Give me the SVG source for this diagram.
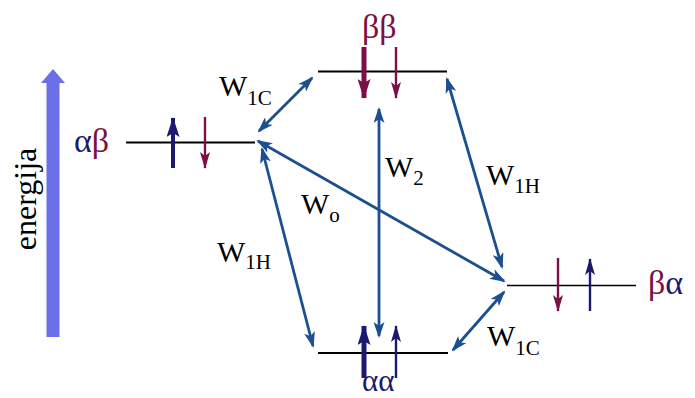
<svg xmlns="http://www.w3.org/2000/svg" width="695" height="398" viewBox="0 0 695 398">
<style>
.lvl{stroke:#000;fill:none}
.con{stroke:#1c4f8f;fill:none;stroke-width:2.8;marker-start:url(#ah);marker-end:url(#ah)}
.lab{font-family:"Liberation Serif","Times New Roman",serif;font-size:30px;fill:#000}
.sub{font-size:21px}
.gr{font-family:"Liberation Serif","Times New Roman",serif;font-size:34px}
.nv{fill:#1c1a6e}
.mr{fill:#7a1045}
.sn{stroke:#1c1a6e;fill:none}
.sm{stroke:#7a1045;fill:none}
</style>
<defs>
<marker id="ah" markerUnits="userSpaceOnUse" viewBox="0 0 16 11" markerWidth="16" markerHeight="11" refX="14" refY="5.5" orient="auto-start-reverse">
<path d="M0,0 L16,5.5 L0,11 L4,5.5 z" fill="#1c4f8f"/>
</marker>
<marker id="nvB" markerUnits="userSpaceOnUse" viewBox="0 0 20 13" markerWidth="20" markerHeight="13" refX="19" refY="6.5" orient="auto">
<path d="M0,0 L20,6.5 L0,13 L4,6.5 z" fill="#1c1a6e"/>
</marker>
<marker id="nvS" markerUnits="userSpaceOnUse" viewBox="0 0 17 10" markerWidth="17" markerHeight="10" refX="16" refY="5" orient="auto">
<path d="M0,0 L17,5 L0,10 L4,5 z" fill="#1c1a6e"/>
</marker>
<marker id="mrB" markerUnits="userSpaceOnUse" viewBox="0 0 20 13" markerWidth="20" markerHeight="13" refX="19" refY="6.5" orient="auto">
<path d="M0,0 L20,6.5 L0,13 L4,6.5 z" fill="#7a1045"/>
</marker>
<marker id="mrS" markerUnits="userSpaceOnUse" viewBox="0 0 17 10" markerWidth="17" markerHeight="10" refX="16" refY="5" orient="auto">
<path d="M0,0 L17,5 L0,10 L4,5 z" fill="#7a1045"/>
</marker>
</defs>
<rect width="695" height="398" fill="#fff"/>

<g id="energy-axis">
<polygon points="46.5,337 59.5,337 59.5,83 65,83 53,69 41,83 46.5,83" fill="#6b6fe9"/>
<text class="lab" text-anchor="middle" transform="translate(36,199) rotate(-90)" style="font-size:32px">energija</text>
</g>

<g id="level-ab">
<line class="lvl" x1="126" y1="142.5" x2="255" y2="142.5" stroke-width="2.2"/>
<line class="sn" x1="173" y1="168" x2="173" y2="118" stroke-width="4" marker-end="url(#nvB)"/>
<line class="sm" x1="205" y1="117" x2="205" y2="168" stroke-width="2.4" marker-end="url(#mrS)"/>
<text class="gr" x="74" y="152"><tspan class="nv">α</tspan><tspan class="mr">β</tspan></text>
</g>

<g id="level-bb">
<line class="lvl" x1="318" y1="71.5" x2="447" y2="71.5" stroke-width="2.2"/>
<line class="sm" x1="364" y1="47" x2="364" y2="98" stroke-width="5" marker-end="url(#mrB)"/>
<line class="sm" x1="396" y1="47" x2="396" y2="98" stroke-width="2.4" marker-end="url(#mrS)"/>
<text class="gr mr" x="362" y="38">ββ</text>
</g>

<g id="level-ba">
<line class="lvl" x1="507" y1="285.5" x2="636" y2="285.5" stroke-width="1.6"/>
<line class="sm" x1="558" y1="258" x2="558" y2="311" stroke-width="2.4" marker-end="url(#mrS)"/>
<line class="sn" x1="590" y1="311" x2="590" y2="259" stroke-width="2.4" marker-end="url(#nvS)"/>
<text class="gr" x="648" y="294"><tspan class="mr">β</tspan><tspan class="nv">α</tspan></text>
</g>

<g id="level-aa">
<line class="lvl" x1="318" y1="353" x2="448" y2="353" stroke-width="1.8"/>
<line class="sn" x1="364" y1="378" x2="364" y2="326" stroke-width="5" marker-end="url(#nvB)"/>
<line class="sn" x1="396" y1="378" x2="396" y2="326" stroke-width="2.4" marker-end="url(#nvS)"/>
<text class="gr nv" x="362" y="391" style="font-size:31px">αα</text>
</g>

<g id="connectors">
<line class="con" x1="259" y1="131" x2="312" y2="78"/>
<line class="con" x1="258" y1="141" x2="504" y2="281"/>
<line class="con" x1="262" y1="149" x2="313" y2="346" stroke-width="2.2"/>
<line class="con" x1="379" y1="109" x2="379" y2="336" stroke-width="2.4"/>
<line class="con" x1="447" y1="79" x2="502" y2="267"/>
<line class="con" x1="504" y1="292" x2="453" y2="350"/>
</g>

<g id="labels">
<text class="lab" x="219" y="96">W<tspan class="sub" dy="9">1C</tspan></text>
<text class="lab" x="385" y="177">W<tspan class="sub" dy="8">2</tspan></text>
<text class="lab" x="486" y="185">W<tspan class="sub" dy="8">1H</tspan></text>
<text class="lab" x="301" y="214">W<tspan class="sub" dy="8">o</tspan></text>
<text class="lab" x="217" y="262">W<tspan class="sub" dy="7">1H</tspan></text>
<text class="lab" x="487" y="346">W<tspan class="sub" dy="9">1C</tspan></text>
</g>
</svg>
